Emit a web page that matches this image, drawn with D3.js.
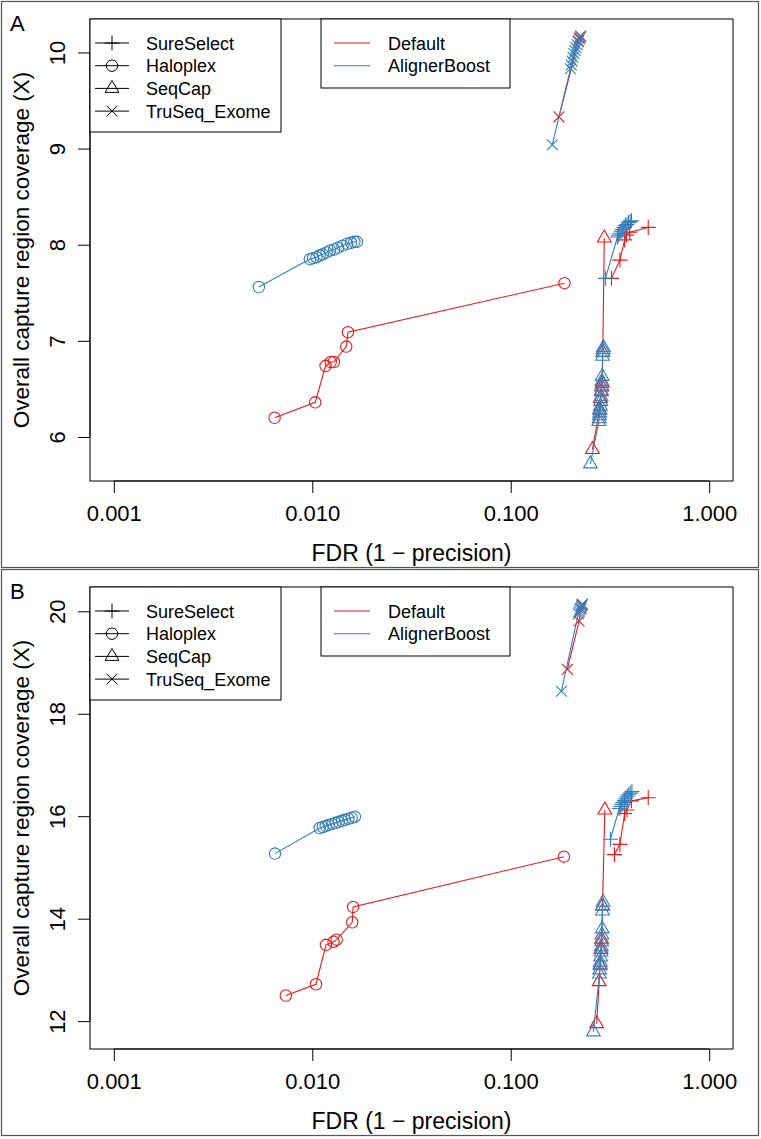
<!DOCTYPE html>
<html><head><meta charset="utf-8">
<script src="https://cdn.jsdelivr.net/npm/d3@7"></script>
<style>body{margin:0;background:#fff} text{font-family:"Liberation Sans",Arial,sans-serif;fill:#000}</style>
</head><body><svg id="c" width="761" height="1139"></svg>
<script>
// ---------- data ----------
const kits = ["SureSelect","Haloplex","SeqCap","TruSeq_Exome"];
const modes = ["Default","AlignerBoost"];
const xTicks = [0.001,0.01,0.1,1];
const xTickLabels = ["0.001","0.010","0.100","1.000"];
const yTicksA = [6,7,8,9,10];
const yTicksB = [12,14,16,18,20];

// panel A : [FDR, coverage]
const A_sureSelect_default = [[0.322,7.65],[0.355,7.84],[0.375,8.05],[0.383,8.10],[0.398,8.13],[0.493,8.18]];
const A_sureSelect_boost = [[0.300,7.65],[0.345,8.08],[0.350,8.10],[0.355,8.12],[0.360,8.14],[0.366,8.16],[0.372,8.18],[0.378,8.20],[0.385,8.21],[0.392,8.23],[0.400,8.24],[0.406,8.25]];
const A_haloplex_default = [[0.00646,6.20],[0.01035,6.36],[0.01167,6.74],[0.01238,6.78],[0.01285,6.78],[0.01483,6.94],[0.01513,7.09],[0.1866,7.60]];
const A_haloplex_boost = [[0.00538,7.56],[0.00973,7.85],[0.0101,7.86],[0.0105,7.87],[0.0109,7.89],[0.0113,7.90],[0.0118,7.92],[0.0123,7.94],[0.0129,7.95],[0.0135,7.97],[0.0142,7.99],[0.0150,8.01],[0.0157,8.02],[0.0163,8.03],[0.0168,8.03]];
const A_seqCap_default = [[0.258,5.87],[0.280,6.28],[0.283,6.40],[0.286,6.47],[0.288,6.52],[0.289,6.56],[0.291,6.88],[0.296,8.07]];
const A_seqCap_boost = [[0.252,5.72],[0.278,6.16],[0.279,6.19],[0.280,6.22],[0.281,6.25],[0.282,6.28],[0.283,6.32],[0.284,6.37],[0.285,6.42],[0.286,6.48],[0.287,6.53],[0.288,6.58],[0.289,6.63],[0.290,6.84],[0.291,6.88],[0.292,6.91],[0.293,6.93]];
const A_truSeq_default = [[0.175,9.33],[0.219,10.12],[0.222,10.15],[0.225,10.17]];
const A_truSeq_boost = [[0.162,9.04],[0.200,9.83],[0.202,9.87],[0.204,9.91],[0.206,9.95],[0.208,9.99],[0.211,10.02],[0.213,10.05],[0.216,10.08],[0.219,10.11],[0.222,10.14],[0.225,10.16]];

// panel B : [FDR, coverage]
const B_sureSelect_default = [[0.333,15.25],[0.355,15.45],[0.375,16.05],[0.385,16.12],[0.406,16.30],[0.493,16.36]];
const B_sureSelect_boost = [[0.318,15.55],[0.352,16.15],[0.358,16.19],[0.363,16.23],[0.368,16.27],[0.374,16.31],[0.380,16.35],[0.386,16.39],[0.393,16.42],[0.400,16.45],[0.408,16.48]];
const B_haloplex_default = [[0.00736,12.50],[0.01044,12.72],[0.01172,13.49],[0.0128,13.55],[0.01327,13.59],[0.0159,13.93],[0.01606,14.23],[0.1854,15.21]];
const B_haloplex_boost = [[0.00649,15.27],[0.0109,15.77],[0.0113,15.79],[0.0117,15.81],[0.0121,15.83],[0.0126,15.85],[0.0131,15.87],[0.0136,15.89],[0.0141,15.91],[0.0146,15.93],[0.0152,15.95],[0.0158,15.97],[0.0164,15.99]];
const B_seqCap_default = [[0.271,11.95],[0.279,12.77],[0.282,13.10],[0.285,13.40],[0.287,13.60],[0.290,14.25],[0.298,16.12]];
const B_seqCap_boost = [[0.261,11.79],[0.280,12.92],[0.281,13.00],[0.282,13.08],[0.283,13.15],[0.284,13.25],[0.285,13.35],[0.286,13.45],[0.287,13.55],[0.288,13.68],[0.289,13.80],[0.290,14.15],[0.291,14.25],[0.292,14.32]];
const B_truSeq_default = [[0.193,18.87],[0.221,19.81],[0.226,20.05],[0.228,20.12]];
const B_truSeq_boost = [[0.180,18.44],[0.219,19.95],[0.221,19.99],[0.223,20.03],[0.225,20.06],[0.227,20.09],[0.229,20.12],[0.230,20.14]];

// ---------- drawing ----------
const RED = "#E41A1C", BLUE = "#377EB8";
const modeColor = {Default: RED, AlignerBoost: BLUE};
const svg = d3.select("#c");
const FF = "Liberation Sans, Arial, sans-serif";

function symbolPath(kit) {
  const p = d3.path();
  if (kit === "SureSelect") { const h = 7.5; p.moveTo(-h,0); p.lineTo(h,0); p.moveTo(0,-h); p.lineTo(0,h); }
  else if (kit === "Haloplex") { const r = 5.7; p.moveTo(r,0); p.arc(0,0,r,0,2*Math.PI); }
  else if (kit === "SeqCap") { const R0=5.1, r=R0*1.555, xc=R0*1.347, yc=R0*0.778; p.moveTo(0,-r); p.lineTo(xc,yc); p.lineTo(-xc,yc); p.closePath(); }
  else { const h = 5.4; p.moveTo(-h,-h); p.lineTo(h,h); p.moveTo(-h,h); p.lineTo(h,-h); }
  return p.toString();
}

const panels = [
  {label:"A", off:0, yTicks:yTicksA, series:[
    {kit:"SureSelect",mode:"Default",d:A_sureSelect_default},{kit:"Haloplex",mode:"Default",d:A_haloplex_default},
    {kit:"SeqCap",mode:"Default",d:A_seqCap_default},{kit:"TruSeq_Exome",mode:"Default",d:A_truSeq_default},
    {kit:"SureSelect",mode:"AlignerBoost",d:A_sureSelect_boost},{kit:"Haloplex",mode:"AlignerBoost",d:A_haloplex_boost},
    {kit:"SeqCap",mode:"AlignerBoost",d:A_seqCap_boost},{kit:"TruSeq_Exome",mode:"AlignerBoost",d:A_truSeq_boost}]},
  {label:"B", off:568, yTicks:yTicksB, series:[
    {kit:"SureSelect",mode:"Default",d:B_sureSelect_default},{kit:"Haloplex",mode:"Default",d:B_haloplex_default},
    {kit:"SeqCap",mode:"Default",d:B_seqCap_default},{kit:"TruSeq_Exome",mode:"Default",d:B_truSeq_default},
    {kit:"SureSelect",mode:"AlignerBoost",d:B_sureSelect_boost},{kit:"Haloplex",mode:"AlignerBoost",d:B_haloplex_boost},
    {kit:"SeqCap",mode:"AlignerBoost",d:B_seqCap_boost},{kit:"TruSeq_Exome",mode:"AlignerBoost",d:B_truSeq_boost}]}
];

const L = 90, Rr = 733;
panels.forEach(P => {
  const g = svg.append("g").attr("transform", `translate(0,${P.off})`);
  const T = 19, Bt = 481;
  // figure frame
  g.append("rect").attr("x",1.5).attr("y",1.5).attr("width",757).attr("height",566)
    .attr("fill","none").attr("stroke","#555").attr("stroke-width",1.2);

  const lx = Math.log10(0.001), hx = Math.log10(1), ex = (hx-lx)*0.04;
  const x = d3.scaleLog().domain([Math.pow(10,lx-ex), Math.pow(10,hx+ex)]).range([L,Rr]);
  const all = P.series.flatMap(s => s.d.map(p => p[1]));
  const [ymn, ymx] = d3.extent(all), ey = (ymx-ymn)*0.04;
  const y = d3.scaleLinear().domain([ymn-ey, ymx+ey]).range([Bt,T]);

  // axes
  const xa = g.append("g").attr("transform",`translate(0,${Bt})`)
    .call(d3.axisBottom(x).tickValues(xTicks).tickFormat((d,i)=>xTickLabels[i]).tickSize(12).tickSizeOuter(0));
  xa.select(".domain").attr("d", `M${x(xTicks[0])},0H${x(xTicks[xTicks.length-1])}`);
  xa.selectAll("text").attr("y",40).attr("dy",null)
    .style("font-size","22px").style("font-family",FF).attr("fill","#000");
  xa.selectAll("line,path").attr("stroke","#000");

  const ya = g.append("g").attr("transform",`translate(${L},0)`)
    .call(d3.axisLeft(y).tickValues(P.yTicks).tickFormat(d3.format("d")).tickSize(12).tickSizeOuter(0));
  ya.select(".domain").attr("d", `M0,${y(P.yTicks[0])}V${y(P.yTicks[P.yTicks.length-1])}`);
  ya.selectAll("line,path").attr("stroke","#000");
  ya.selectAll("text").attr("x",null).attr("dy",null).attr("text-anchor","middle")
    .attr("transform","translate(-25,0) rotate(-90)")
    .style("font-size","22px").style("font-family",FF).attr("fill","#000");

  // box
  g.append("rect").attr("x",L).attr("y",T).attr("width",Rr-L).attr("height",Bt-T)
    .attr("fill","none").attr("stroke","#000").attr("stroke-width",1);

  // titles
  g.append("text").attr("x",(L+Rr)/2).attr("y",561).attr("text-anchor","middle").style("font-size","23px").text("FDR (1 \u2212 precision)");
  g.append("text").attr("transform",`translate(29,${(T+Bt)/2}) rotate(-90)`).attr("text-anchor","middle").style("font-size","22.5px").text("Overall capture region coverage (X)");
  g.append("text").attr("x",10).attr("y",31).style("font-size","22px").text(P.label);

  // series
  const line = d3.line().x(p=>x(p[0])).y(p=>y(p[1]));
  P.series.forEach(s => {
    const col = modeColor[s.mode];
    g.append("path").attr("d",line(s.d)).attr("fill","none").attr("stroke",col).attr("stroke-width",1.1);
    g.selectAll(null).data(s.d).enter().append("path")
      .attr("transform",p=>`translate(${x(p[0])},${y(p[1])})`)
      .attr("d",symbolPath(s.kit)).attr("fill","none").attr("stroke",col).attr("stroke-width",1.1);
  });

  // legend 1 (symbols)
  const lg1 = g.append("g");
  lg1.append("rect").attr("x",L).attr("y",T).attr("width",191).attr("height",113).attr("fill","#fff").attr("stroke","#000");
  kits.forEach((k,i)=>{
    const yy = 43 + i*22.7;
    lg1.append("line").attr("x1",95).attr("x2",129).attr("y1",yy).attr("y2",yy).attr("stroke","#000");
    lg1.append("path").attr("transform",`translate(112,${yy})`).attr("d",symbolPath(k)).attr("fill","none").attr("stroke","#000");
    lg1.append("text").attr("x",146).attr("y",yy+6.5).style("font-size","18px").text(k);
  });
  // legend 2 (colours)
  const lg2 = g.append("g");
  lg2.append("rect").attr("x",321).attr("y",T).attr("width",189).attr("height",69).attr("fill","#fff").attr("stroke","#000");
  modes.forEach((m,i)=>{
    const yy = 43 + i*22.7;
    lg2.append("line").attr("x1",334).attr("x2",370).attr("y1",yy).attr("y2",yy).attr("stroke",modeColor[m]).attr("stroke-width",1.1);
    lg2.append("text").attr("x",388).attr("y",yy+6.5).style("font-size","18px").text(m);
  });
});
</script></body></html>
